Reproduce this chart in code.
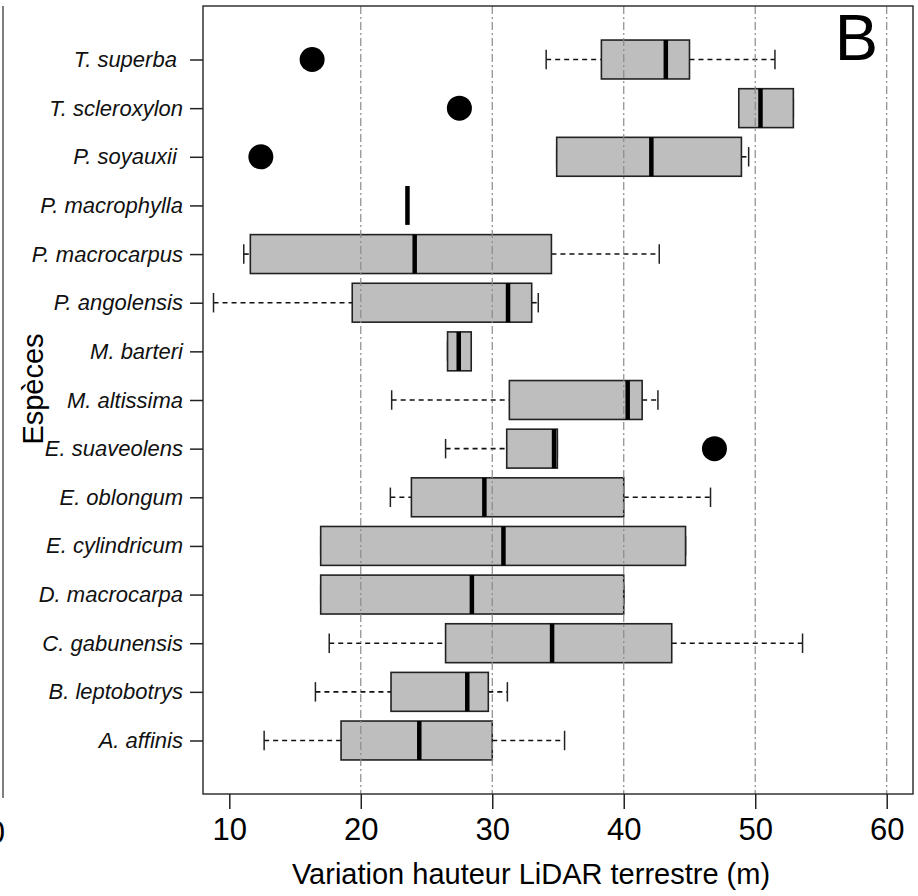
<!DOCTYPE html>
<html>
<head>
<meta charset="utf-8">
<script src="https://cdn.jsdelivr.net/npm/d3@7"></script>
<style>
  body { margin: 0; background: #fff; }
  text { font-family: 'Liberation Sans', Arial, Helvetica, sans-serif; }
</style>
</head>
<body>
<div id="chart"></div>
<script>
// species from top to bottom (trailing spaces are in the original labels)
const species = [
  'T. superba\u00a0',
  'T. scleroxylon',
  'P. soyauxii\u00a0',
  'P. macrophylla',
  'P. macrocarpus',
  'P. angolensis',
  'M. barteri',
  'M. altissima',
  'E. suaveolens',
  'E. oblongum',
  'E. cylindricum',
  'D. macrocarpa',
  'C. gabunensis',
  'B. leptobotrys',
  'A. affinis'
]

const lowWhisker = [34.1, 48.75, 34.9, 23.55, 11.1, 8.8, 26.6, 22.35, 26.45, 22.25, 16.95, 16.95, 17.6, 16.55, 12.65]
const q1 = [38.3, 48.75, 34.9, 23.55, 11.6, 19.35, 26.6, 31.3, 31.1, 23.85, 16.95, 16.95, 26.45, 22.3, 18.5]
const median = [43.2, 50.4, 42.1, 23.55, 24.1, 31.2, 27.45, 40.3, 34.7, 29.4, 30.85, 28.45, 34.55, 28.1, 24.45]
const q3 = [45.0, 52.9, 48.95, 23.55, 34.5, 33.0, 28.4, 41.4, 34.95, 40.0, 44.7, 40.0, 43.65, 29.7, 30.0]
const highWhisker = [51.5, 52.9, 49.5, 23.55, 42.7, 33.5, 28.4, 42.6, 34.95, 46.6, 44.7, 40.0, 53.6, 31.15, 35.5]

const outlierSpecies = ['T. superba\u00a0', 'T. scleroxylon', 'P. soyauxii\u00a0', 'E. suaveolens']
const outlierValues = [16.3, 27.5, 12.4, 46.9]

const xTicks = [10, 20, 30, 40, 50, 60]
const gridValues = [20, 30, 40, 50, 60]

const width = 918
const height = 896
const plot = { left: 203, right: 913, top: 6, bottom: 794 }

const svg = d3
  .select('#chart')
  .append('svg')
  .attr('width', width)
  .attr('height', height)

const xScale = d3
  .scaleLinear()
  .domain([8, 62])
  .range([plot.left, plot.right])

// R style positions: 1 at the bottom, n at the top, with 4% padding
const n = species.length
const yScale = d3
  .scaleLinear()
  .domain([-0.1, n + 1.1])
  .range([plot.bottom, plot.top])

const yPos = name => yScale(n - species.indexOf(name))
const boxHalf = (yScale(0) - yScale(0.8)) / 2
const stapleHalf = boxHalf / 2

const boxes = species.map((s, i) => ({
  name: s,
  lw: lowWhisker[i],
  q1: q1[i],
  med: median[i],
  q3: q3[i],
  hw: highWhisker[i]
}))

const outliers = outlierSpecies.map((s, i) => ({ name: s, value: outlierValues[i] }))

// edge of the neighbouring panel on the left
svg
  .append('line')
  .attr('x1', 3)
  .attr('x2', 3)
  .attr('y1', plot.top)
  .attr('y2', 798)
  .attr('stroke', '#555')
  .attr('stroke-width', 1.5)
svg
  .append('text')
  .attr('x', 5)
  .attr('y', 843)
  .attr('text-anchor', 'end')
  .attr('font-size', 31)
  .text('0')

const groups = svg
  .selectAll('.box')
  .data(boxes)
  .enter()
  .append('g')
  .attr('class', 'box')
  .attr('transform', d => 'translate(0,' + yPos(d.name) + ')')

// whiskers
groups
  .append('line')
  .attr('x1', d => xScale(d.lw))
  .attr('x2', d => xScale(d.q1))
  .attr('stroke', '#111')
  .attr('stroke-width', 1.6)
  .attr('stroke-dasharray', '5,4')
groups
  .append('line')
  .attr('x1', d => xScale(d.q3))
  .attr('x2', d => xScale(d.hw))
  .attr('stroke', '#111')
  .attr('stroke-width', 1.6)
  .attr('stroke-dasharray', '5,4')

// staples
groups
  .selectAll('.staple')
  .data(d => [d.lw, d.hw])
  .enter()
  .append('line')
  .attr('class', 'staple')
  .attr('x1', d => xScale(d))
  .attr('x2', d => xScale(d))
  .attr('y1', -stapleHalf)
  .attr('y2', stapleHalf)
  .attr('stroke', '#222')
  .attr('stroke-width', 1.5)

groups
  .append('rect')
  .attr('x', d => xScale(d.q1))
  .attr('width', d => xScale(d.q3) - xScale(d.q1))
  .attr('y', -boxHalf)
  .attr('height', boxHalf * 2)
  .attr('fill', '#bebebe')
  .attr('stroke', '#222')
  .attr('stroke-width', 1.6)

groups
  .append('line')
  .attr('x1', d => xScale(d.med))
  .attr('x2', d => xScale(d.med))
  .attr('y1', -boxHalf)
  .attr('y2', boxHalf)
  .attr('stroke', '#000')
  .attr('stroke-width', 4.5)

svg
  .selectAll('.outlier')
  .data(outliers)
  .enter()
  .append('circle')
  .attr('class', 'outlier')
  .attr('cx', d => xScale(d.value))
  .attr('cy', d => yPos(d.name))
  .attr('r', 12.5)
  .attr('fill', '#000')

// grid drawn on top of the boxes, as in the original
svg
  .selectAll('.grid')
  .data(gridValues)
  .enter()
  .append('line')
  .attr('class', 'grid')
  .attr('x1', d => xScale(d))
  .attr('x2', d => xScale(d))
  .attr('y1', plot.top)
  .attr('y2', plot.bottom)
  .attr('stroke', '#8a8a8a')
  .attr('stroke-width', 1.2)
  .attr('stroke-dasharray', '8,3,2,3')

// frame
svg
  .append('rect')
  .attr('x', plot.left)
  .attr('y', plot.top)
  .attr('width', plot.right - plot.left)
  .attr('height', plot.bottom - plot.top)
  .attr('fill', 'none')
  .attr('stroke', '#333')
  .attr('stroke-width', 1.5)

// x axis
const xAxis = d3
  .axisBottom(xScale)
  .tickValues(xTicks)
  .tickSize(15)
  .tickPadding(9)
  .tickFormat(d3.format('d'))
svg
  .append('g')
  .attr('transform', 'translate(0,' + plot.bottom + ')')
  .call(xAxis)
  .call(g => g.select('.domain').remove())
  .call(g => g.selectAll('line').attr('stroke', '#222').attr('stroke-width', 1.5))
  .call(g =>
    g
      .selectAll('text')
      .attr('font-size', 31)
      .attr('fill', '#000')
      .attr('font-family', "'Liberation Sans', Arial, sans-serif")
  )

// y axis
const yAxis = d3
  .axisLeft(yScale)
  .tickValues(d3.range(1, n + 1))
  .tickSize(13)
  .tickPadding(7)
  .tickFormat(d => species[n - d])
svg
  .append('g')
  .attr('transform', 'translate(' + plot.left + ',0)')
  .call(yAxis)
  .call(g => g.select('.domain').remove())
  .call(g => g.selectAll('line').attr('stroke', '#222').attr('stroke-width', 1.5))
  .call(g =>
    g
      .selectAll('text')
      .attr('font-size', 22)
      .attr('font-style', 'italic')
      .attr('fill', '#111')
      .attr('font-family', "'Liberation Sans', Arial, sans-serif")
  )

svg
  .append('text')
  .attr('x', 531)
  .attr('y', 884)
  .attr('text-anchor', 'middle')
  .attr('font-size', 29)
  .text('Variation hauteur LiDAR terrestre (m)')

svg
  .append('text')
  .attr('transform', 'translate(43,389) rotate(-90)')
  .attr('text-anchor', 'middle')
  .attr('font-size', 29)
  .text('Espèces')

svg
  .append('text')
  .attr('x', 878)
  .attr('y', 60)
  .attr('text-anchor', 'end')
  .attr('font-size', 65)
  .text('B')
</script>
</body>
</html>
